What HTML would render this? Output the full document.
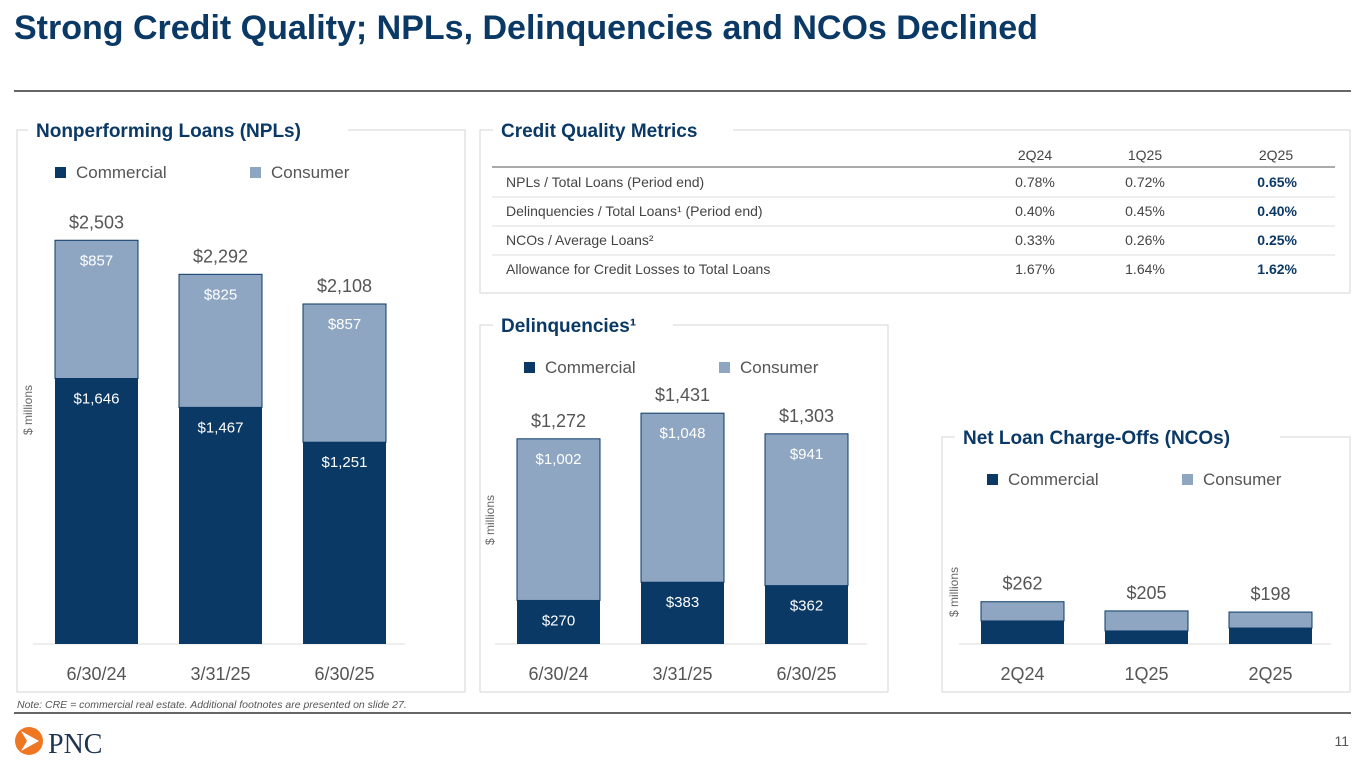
<!DOCTYPE html>
<html><head><meta charset="utf-8"><style>
body{margin:0;background:#fff;width:1365px;height:768px;overflow:hidden;font-family:"Liberation Sans",sans-serif}
svg text{font-family:"Liberation Sans",sans-serif}
</style></head><body>
<svg id="s" width="1365" height="768">
<text x="14" y="39" font-size="34" font-weight="bold" fill="#0b3966">Strong Credit Quality; NPLs, Delinquencies and NCOs Declined</text>
<line x1="14" y1="91" x2="1351" y2="91" stroke="#333" stroke-width="1.5"/>
<line x1="14" y1="713" x2="1351" y2="713" stroke="#333" stroke-width="1.5"/>
<text x="17" y="708" font-size="10.5" font-style="italic" fill="#555">Note: CRE = commercial real estate. Additional footnotes are presented on slide 27.</text>
<g>
<circle cx="29" cy="741" r="14" fill="#ef7622"/><polygon points="21,731 39,741 21,751 27,741" fill="#fff"/>
<text x="48" y="753" font-size="28" fill="#1e3550" style="font-family:'Liberation Serif',serif">PNC</text></g>
<text x="1349" y="746" font-size="14" fill="#555" text-anchor="end">11</text>
<rect x="17" y="130" width="448" height="562" fill="none" stroke="#d6d6d6"/>
<rect x="480" y="130" width="870" height="163" fill="none" stroke="#d6d6d6"/>
<rect x="480" y="325" width="408" height="367" fill="none" stroke="#d6d6d6"/>
<rect x="942" y="437" width="408" height="255" fill="none" stroke="#d6d6d6"/>
<rect x="28" y="118" width="320" height="25" fill="#fff"/><text x="36" y="137" font-size="19" font-weight="bold" fill="#0b3966">Nonperforming Loans (NPLs)</text>
<rect x="493" y="118" width="240" height="25" fill="#fff"/><text x="501" y="137" font-size="19" font-weight="bold" fill="#0b3966">Credit Quality Metrics</text>
<rect x="493" y="313" width="180" height="25" fill="#fff"/><text x="501" y="332" font-size="19" font-weight="bold" fill="#0b3966">Delinquencies¹</text>
<rect x="955" y="425" width="325" height="25" fill="#fff"/><text x="963" y="444" font-size="19" font-weight="bold" fill="#0b3966">Net Loan Charge-Offs (NCOs)</text>
<g id="tbl" font-size="14" fill="#444"></g>
<g id="charts"></g>
</svg>
<script>
const NS="http://www.w3.org/2000/svg";
const navy="#0b3966",light="#8fa6c2";
function mk(t,a,p,txt){const e=document.createElementNS(NS,t);for(const k in a)e.setAttribute(k,a[k]);if(txt!=null)e.textContent=txt;p.appendChild(e);return e;}
const tblCols=["2Q24","1Q25","2Q25"];
const tblRows=["NPLs / Total Loans (Period end)","Delinquencies / Total Loans¹ (Period end)","NCOs / Average Loans²","Allowance for Credit Losses to Total Loans"];
const tblVals=[["0.78%","0.72%","0.65%"],["0.40%","0.45%","0.40%"],["0.33%","0.26%","0.25%"],["1.67%","1.64%","1.62%"]];
const tg=document.getElementById('tbl');
const cx=[1035,1145,1276];
tblCols.forEach((c,i)=>{const e=mk('text',{x:cx[i],y:160,'text-anchor':'middle',fill:'#444'},tg,c);

});
mk('line',{x1:492,y1:167,x2:1335,y2:167,stroke:'#555'},tg);
tblRows.forEach((r,j)=>{const y=187+j*29;
const e=mk('text',{x:506,y:y,fill:'#444'},tg,r);


tblVals[j].forEach((v,i)=>{const t=mk('text',{x:cx[i]+(i==2?21:0),y:y,'text-anchor':i==2?'end':'middle',fill:i==2?'#0b3966':'#444','font-weight':i==2?'bold':'normal'},tg,v);

});
if(j<3)mk('line',{x1:492,y1:y+10,x2:1335,y2:y+10,stroke:'#ddd'},tg);});
const nplCats=["6/30/24","3/31/25","6/30/25"];
const nplCom=[1646,1467,1251];
const nplCon=[857,825,857];
const nplTot=[2503,2292,2108];
const delCats=["6/30/24","3/31/25","6/30/25"];
const delCom=[270,383,362];
const delCon=[1002,1048,941];
const delTot=[1272,1431,1303];
const ncoCats=["2Q24","1Q25","2Q25"];
const ncoCom=[143,81,99];
const ncoCon=[119,124,99];
const ncoTot=[262,205,198];
const scale=0.1613, base=644;
const yS=v=>base-v*scale;
const cg=document.getElementById('charts');
function chart(name,x0,cats,com,con,tot,legY,legX,axisLabelX,axisLabelY,showInner){
 const g=mk('g',{},cg);
 
 
 mk('line',{x1:x0-22,y1:base,x2:x0+350,y2:base,stroke:'#ddd'},g);
 const al=mk('text',{x:axisLabelX,y:axisLabelY,transform:`rotate(-90 ${axisLabelX} ${axisLabelY})`,'font-size':12,fill:'#666','text-anchor':'middle'},g,'$ millions');
 
 
 mk('rect',{x:legX,y:legY-11,width:11,height:11,fill:navy},g);
 const l1=mk('text',{x:legX+21,y:legY,'font-size':17,fill:'#555'},g,'Commercial');
 
 
 mk('rect',{x:legX+195,y:legY-11,width:11,height:11,fill:light},g);
 const l2=mk('text',{x:legX+216,y:legY,'font-size':17,fill:'#555'},g,'Consumer');
 
 
 cats.forEach((c,i)=>{const x=x0+i*124,w=83,cx=x+w/2;
  const yc=yS(com[i]),yt=yS(com[i]+con[i]);
  const b1=mk('rect',{x:x,y:yc,width:w,height:base-yc,fill:navy},g);
  
  
  const b2=mk('rect',{x:x,y:yt,width:w,height:yc-yt,fill:light,stroke:navy,'stroke-width':1},g);
  
  
  if(showInner){
   mk('text',{x:cx,y:yc+25,'font-size':15,fill:'#fff','text-anchor':'middle'},g,'$'+com[i].toLocaleString('en-US'));
   mk('text',{x:cx,y:yt+25,'font-size':15,fill:'#fff','text-anchor':'middle'},g,'$'+con[i].toLocaleString('en-US'));
  }
  const tl=mk('text',{x:cx,y:yt-12,'font-size':18,fill:'#555','text-anchor':'middle'},g,'$'+tot[i].toLocaleString('en-US'));
  
  
  const xl=mk('text',{x:cx,y:680,'font-size':18,fill:'#555','text-anchor':'middle'},g,c);
  
  
 });
}
chart('npl',55,nplCats,nplCom,nplCon,nplTot,178,55,32,410,true);
chart('delinquencies',517,delCats,delCom,delCon,delTot,373,524,494,520,true);
chart('nco',981,ncoCats,ncoCom,ncoCon,ncoTot,485,987,958,592,false);
</script>
</body></html>
